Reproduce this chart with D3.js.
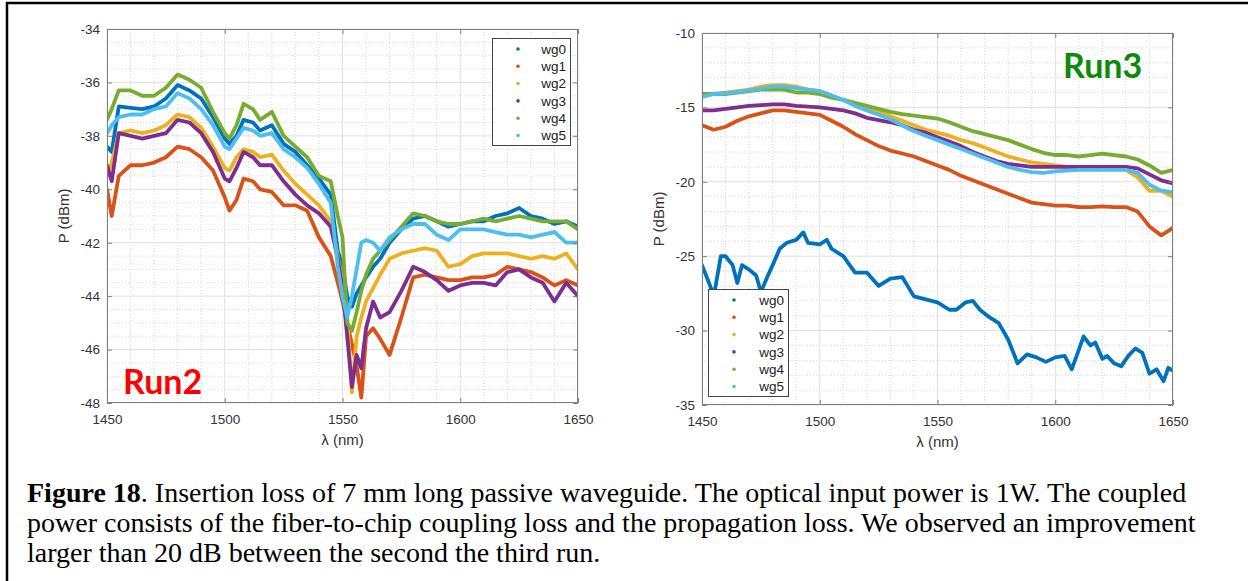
<!DOCTYPE html>
<html>
<head>
<meta charset="utf-8">
<script src="https://cdn.jsdelivr.net/npm/d3@7"></script>
<style>
  body { margin: 0; background: #fff; }
  svg { display: block; }
</style>
</head>
<body>
<svg id="fig" width="1248" height="581"></svg>
<script>
// legend names + MATLAB default colour order
var seriesNames = ["wg0", "wg1", "wg2", "wg3", "wg4", "wg5"];
var seriesColors = ["#0072BD", "#D95319", "#EDB120", "#7E2F8E", "#77AC30", "#4DBEEE"];

var xTicks = [1450, 1500, 1550, 1600, 1650];
var yTicksRun2 = [-48, -46, -44, -42, -40, -38, -36, -34];
var yTicksRun3 = [-35, -30, -25, -20, -15, -10];

// ---- Run2 (wavelength nm / power dBm)
var wlRun2 = [1450,1452,1455,1460,1465,1470,1475,1480,1485,1490,1495,1500,1502,1505,1508,1512,1515,1520,1525,1530,
              1535,1540,1545,1548,1550,1552,1554,1556,1558,1560,1563,1566,1570,1575,1580,1585,1590,1595,1600,1605,
              1610,1615,1620,1625,1630,1635,1640,1645,1650];
var run2_wg0 = [-38.4,-38.6,-36.9,-36.95,-37.0,-36.9,-36.6,-36.1,-36.3,-36.6,-37.3,-38.1,-38.3,-38.0,-37.4,-37.5,-37.8,-37.6,-38.3,-38.6,
                -39.1,-39.6,-40.2,-42.3,-42.9,-44.0,-44.4,-43.9,-43.6,-43.3,-42.9,-42.6,-42.0,-41.5,-41.1,-41.0,-41.2,-41.4,-41.3,-41.2,
                -41.2,-41.0,-40.9,-40.7,-41.0,-41.1,-41.3,-41.2,-41.4];
var run2_wg1 = [-40.0,-41.0,-39.5,-39.1,-39.1,-39.0,-38.8,-38.4,-38.5,-38.8,-39.3,-40.3,-40.8,-40.4,-39.6,-39.7,-40.0,-40.1,-40.6,-40.6,
                -40.8,-41.8,-42.5,-43.5,-44.2,-45.0,-45.8,-46.6,-47.8,-45.5,-45.2,-45.6,-46.2,-44.8,-43.3,-43.2,-43.3,-43.4,-43.4,-43.3,
                -43.3,-43.2,-42.9,-43.0,-43.1,-43.3,-43.6,-43.4,-43.6];
var run2_wg2 = [-39.5,-39.0,-37.9,-37.8,-37.9,-37.8,-37.6,-37.2,-37.3,-37.7,-38.4,-39.2,-39.3,-38.8,-38.5,-38.6,-38.8,-38.7,-39.3,-39.8,
                -40.2,-40.6,-41.2,-42.5,-43.5,-44.8,-47.6,-45.5,-44.8,-44.2,-43.7,-43.2,-42.6,-42.4,-42.3,-42.2,-42.3,-42.9,-42.8,-42.5,
                -42.4,-42.4,-42.4,-42.5,-42.6,-42.5,-42.6,-42.4,-43.0];
var run2_wg3 = [-39.1,-39.7,-37.9,-38.0,-38.1,-38.0,-37.9,-37.4,-37.5,-37.9,-38.6,-39.6,-39.7,-39.2,-38.6,-38.8,-39.1,-39.1,-39.7,-40.2,
                -40.6,-40.9,-41.4,-42.6,-43.7,-45.5,-47.4,-46.2,-46.7,-45.2,-44.2,-44.8,-44.6,-43.8,-42.9,-43.1,-43.4,-43.8,-43.6,-43.5,
                -43.5,-43.6,-43.1,-43.0,-43.3,-43.5,-44.2,-43.5,-44.0];
var run2_wg4 = [-37.4,-37.0,-36.3,-36.3,-36.5,-36.5,-36.2,-35.7,-35.9,-36.2,-37.1,-37.9,-38.1,-37.6,-36.8,-37.0,-37.4,-37.1,-38.0,-38.4,
                -38.8,-39.5,-39.7,-41.0,-41.8,-45.0,-45.3,-44.6,-43.8,-43.2,-42.6,-42.3,-41.9,-41.4,-40.9,-41.0,-41.2,-41.3,-41.3,-41.2,
                -41.1,-41.2,-41.1,-41.0,-41.1,-41.2,-41.2,-41.2,-41.5];
var run2_wg5 = [-37.9,-37.6,-37.3,-37.2,-37.2,-37.0,-36.9,-36.4,-36.6,-37.0,-37.6,-38.4,-38.5,-38.1,-37.7,-37.8,-38.0,-37.9,-38.5,-38.8,
                -39.2,-39.8,-40.5,-42.9,-44.0,-44.8,-44.0,-43.0,-42.0,-41.9,-42.0,-42.3,-41.8,-41.5,-41.3,-41.3,-41.7,-41.9,-41.5,-41.5,
                -41.5,-41.6,-41.7,-41.7,-41.8,-41.7,-41.6,-42.0,-42.0];

// ---- Run3
var wlRun3 = [1450,1455,1460,1465,1470,1475,1480,1485,1490,1495,1500,1505,1510,1515,1520,1525,1530,1535,1540,1545,
              1550,1555,1560,1565,1570,1575,1580,1585,1590,1595,1600,1605,1610,1615,1620,1625,1630,1635,1640,1645,1650];
var run3_wg1 = [-16.2,-16.5,-16.3,-15.9,-15.6,-15.4,-15.2,-15.2,-15.3,-15.4,-15.5,-15.9,-16.3,-16.8,-17.2,-17.6,-17.9,-18.1,-18.3,-18.6,
                -18.9,-19.2,-19.6,-19.9,-20.2,-20.5,-20.8,-21.1,-21.4,-21.5,-21.6,-21.6,-21.7,-21.7,-21.65,-21.7,-21.7,-22.0,-23.0,-23.6,-23.1];
var run3_wg2 = [-14.2,-14.1,-14.0,-13.9,-13.8,-13.6,-13.5,-13.5,-13.6,-13.8,-13.9,-14.2,-14.5,-14.8,-15.0,-15.3,-15.6,-15.9,-16.2,-16.5,
                -16.7,-16.9,-17.2,-17.4,-17.7,-18.0,-18.3,-18.5,-18.7,-18.8,-18.9,-19.0,-19.0,-19.0,-19.1,-19.1,-19.2,-19.7,-20.6,-20.6,-21.0];
var run3_wg3 = [-15.2,-15.2,-15.1,-15.0,-14.9,-14.85,-14.8,-14.8,-14.9,-14.95,-15.0,-15.1,-15.2,-15.4,-15.7,-15.85,-16.0,-16.2,-16.5,-16.7,
                -17.0,-17.3,-17.6,-18.0,-18.3,-18.6,-18.8,-18.9,-19.0,-19.0,-19.0,-19.0,-19.0,-19.0,-19.0,-19.0,-19.0,-19.1,-19.5,-19.9,-20.1];
var run3_wg4 = [-14.1,-14.1,-14.1,-14.0,-13.9,-13.8,-13.8,-13.8,-14.0,-14.0,-14.1,-14.35,-14.5,-14.7,-14.9,-15.1,-15.3,-15.45,-15.55,-15.65,
                -15.75,-16.0,-16.3,-16.6,-16.8,-17.0,-17.2,-17.5,-17.8,-18.05,-18.2,-18.2,-18.3,-18.2,-18.1,-18.2,-18.3,-18.5,-18.9,-19.4,-19.2];
var run3_wg5 = [-14.3,-14.1,-14.05,-13.95,-13.85,-13.75,-13.6,-13.6,-13.7,-13.8,-13.9,-14.2,-14.5,-14.9,-15.2,-15.5,-15.8,-16.2,-16.6,-16.9,
                -17.2,-17.5,-17.8,-18.1,-18.4,-18.7,-19.0,-19.2,-19.35,-19.4,-19.3,-19.25,-19.2,-19.2,-19.2,-19.2,-19.2,-19.4,-20.2,-20.6,-20.7];
// wg0 in run3 has its own sampling (more structure)
var wlRun3_wg0 = [1450,1453,1455,1458,1460,1463,1465,1467,1470,1473,1475,1478,1480,1483,1486,1490,1493,1495,1500,1503,
                  1505,1510,1515,1520,1525,1530,1535,1540,1545,1550,1555,1558,1562,1565,1568,1572,1576,1580,1584,1588,
                  1592,1596,1600,1604,1607,1610,1612,1615,1617,1620,1622,1625,1628,1631,1634,1637,1640,1643,1646,1648,1650];
var run3_wg0 = [-25.6,-26.8,-27.7,-25.0,-25.0,-25.6,-26.8,-25.6,-25.9,-26.3,-27.4,-26.3,-25.6,-24.5,-24.1,-23.9,-23.4,-24.1,-24.2,-23.9,
                -24.5,-25.0,-26.1,-26.1,-27.0,-26.5,-26.4,-27.7,-27.9,-28.1,-28.6,-28.6,-28.1,-28.0,-28.6,-29.1,-29.5,-30.6,-32.2,-31.6,
                -31.8,-32.1,-31.8,-31.7,-32.6,-31.3,-30.4,-31.0,-30.8,-31.9,-31.7,-32.2,-32.4,-31.7,-31.2,-31.5,-32.9,-32.6,-33.4,-32.5,-32.7];

var captionLines = [
  [["Figure 18", true], [". Insertion loss of 7 mm long passive waveguide. The optical input power is 1W. The coupled", false]],
  [["power consists of the fiber-to-chip coupling loss and the propagation loss. We observed an improvement", false]],
  [["larger than 20 dB between the second the third run.", false]]
];

var svg = d3.select("#fig");
var sans = "'Liberation Sans', Arial, sans-serif";

// page frame (left + top rule)
svg.append("path")
  .attr("d", "M7,581 L7,3 L1248,3")
  .attr("fill", "none").attr("stroke", "#000").attr("stroke-width", 2.5);

function drawPanel(p) {
  var x = d3.scaleLinear().domain([1450, 1650]).range([p.left, p.right]);
  var y = d3.scaleLinear().domain([p.yTicks[0], p.yTicks[p.yTicks.length - 1]]).range([p.bottom, p.top]);
  var g = svg.append("g");

  g.append("rect").attr("x", p.left).attr("y", p.top)
    .attr("width", p.right - p.left).attr("height", p.bottom - p.top).attr("fill", "#fff");

  // minor grid (dotted)
  var xMinor = d3.range(1450, 1651, 10).filter(function(v){ return v % 50 != 0; });
  var yMinor = d3.range(p.yTicks[0], p.yTicks[p.yTicks.length - 1] + 0.001, p.yMinor)
    .filter(function(v){ return p.yTicks.indexOf(v) < 0; });
  g.selectAll(".xm").data(xMinor).enter().append("line")
    .attr("x1", d => x(d)).attr("x2", d => x(d)).attr("y1", p.top).attr("y2", p.bottom)
    .attr("stroke", "#d6d6d6").attr("stroke-dasharray", "1,2");
  g.selectAll(".ym").data(yMinor).enter().append("line")
    .attr("x1", p.left).attr("x2", p.right).attr("y1", d => y(d)).attr("y2", d => y(d))
    .attr("stroke", "#d6d6d6").attr("stroke-dasharray", "1,2");
  // major grid
  g.selectAll(".xg").data(xTicks).enter().append("line")
    .attr("x1", d => x(d)).attr("x2", d => x(d)).attr("y1", p.top).attr("y2", p.bottom)
    .attr("stroke", "#e0e0e0");
  g.selectAll(".yg").data(p.yTicks).enter().append("line")
    .attr("x1", p.left).attr("x2", p.right).attr("y1", d => y(d)).attr("y2", d => y(d))
    .attr("stroke", "#e0e0e0");

  // data
  var clipId = "clip" + p.name;
  svg.append("clipPath").attr("id", clipId).append("rect")
    .attr("x", p.left).attr("y", p.top).attr("width", p.right - p.left).attr("height", p.bottom - p.top);
  var lines = g.append("g").attr("clip-path", "url(#" + clipId + ")");
  p.series.forEach(function(s, i) {
    var pts = s.wl.map(function(w, k){ return [w, s.val[k]]; });
    var line = d3.line().x(d => x(d[0])).y(d => y(d[1]));
    lines.append("path")
      .attr("d", line(pts))
      .attr("fill", "none")
      .attr("stroke", seriesColors[i])
      .attr("stroke-width", 3.8)
      .attr("stroke-linejoin", "round")
      .attr("stroke-linecap", "round");
  });

  // axes
  var tickCol = "#808080";
  var fmt = function(d){ return String(d); };
  var xAxis = d3.axisBottom(x).tickValues(xTicks).tickFormat(fmt).tickSizeInner(-5).tickSizeOuter(0).tickPadding(11);
  var yAxis = d3.axisLeft(y).tickValues(p.yTicks).tickFormat(fmt).tickSizeInner(-5).tickSizeOuter(0).tickPadding(7);
  var gx = g.append("g").attr("transform", "translate(0," + p.bottom + ")").call(xAxis);
  var gy = g.append("g").attr("transform", "translate(" + p.left + ",0)").call(yAxis);
  var gx2 = g.append("g").attr("transform", "translate(0," + p.top + ")")
    .call(d3.axisTop(x).tickValues(xTicks).tickSizeInner(-5).tickSizeOuter(0).tickFormat(""));
  var gy2 = g.append("g").attr("transform", "translate(" + p.right + ",0)")
    .call(d3.axisRight(y).tickValues(p.yTicks).tickSizeInner(-5).tickSizeOuter(0).tickFormat(""));
  [gx, gy, gx2, gy2].forEach(function(a) {
    a.select(".domain").remove();
    a.selectAll("line").attr("stroke", tickCol);
    a.selectAll("text").attr("fill", "#333").style("font-family", sans).style("font-size", "13.5px");
  });
  g.append("rect").attr("x", p.left + 0.5).attr("y", p.top + 0.5)
    .attr("width", p.right - p.left - 1).attr("height", p.bottom - p.top - 1)
    .attr("fill", "none").attr("stroke", tickCol).attr("stroke-width", 1);

  // axis labels
  g.append("text").attr("x", (p.left + p.right) / 2).attr("y", p.bottom + 42)
    .attr("text-anchor", "middle").attr("fill", "#333")
    .style("font-family", sans).style("font-size", "15px")
    .text("\u03bb (nm)");
  g.append("text")
    .attr("transform", "translate(" + p.yLabelX + "," + ((p.top + p.bottom) / 2) + ") rotate(-90)")
    .attr("text-anchor", "middle").attr("fill", "#333")
    .style("font-family", sans).style("font-size", "15px")
    .text("P (dBm)");

  // legend
  var lg = g.append("g");
  lg.append("rect").attr("x", p.legend[0] + 0.5).attr("y", p.legend[1] + 0.5)
    .attr("width", p.legend[2]).attr("height", p.legend[3])
    .attr("fill", "#fff").attr("stroke", "#444").attr("stroke-width", 1);
  seriesNames.forEach(function(n, i) {
    var ry = p.legend[1] + 11 + i * 17.3;
    lg.append("circle").attr("cx", p.legend[0] + 26).attr("cy", ry).attr("r", 1.8).attr("fill", seriesColors[i]);
    lg.append("text").attr("x", p.legend[0] + p.legend[2] - 4).attr("y", ry).attr("dy", "0.35em")
      .attr("text-anchor", "end").attr("fill", "#222")
      .style("font-family", sans).style("font-size", "13.5px")
      .text(n);
  });

  // run tag
  g.append("text").attr("x", p.tag[0]).attr("y", p.tag[1])
    .attr("fill", p.tagColor)
    .style("font-family", "Lato, 'Open Sans', sans-serif").style("font-weight", "bold").style("font-size", "34px")
    .text(p.name);
}

drawPanel({
  name: "Run2", left: 107, right: 578, top: 29, bottom: 403,
  yTicks: yTicksRun2, yMinor: 0.5, yLabelX: 69,
  legend: [492, 38, 78, 107], tag: [123, 394], tagColor: "#ff0000",
  series: [
    { wl: wlRun2, val: run2_wg0 }, { wl: wlRun2, val: run2_wg1 }, { wl: wlRun2, val: run2_wg2 },
    { wl: wlRun2, val: run2_wg3 }, { wl: wlRun2, val: run2_wg4 }, { wl: wlRun2, val: run2_wg5 }
  ]
});

drawPanel({
  name: "Run3", left: 702, right: 1173, top: 33, bottom: 405,
  yTicks: yTicksRun3, yMinor: 1, yLabelX: 664,
  legend: [708, 289, 80, 107], tag: [1063, 78], tagColor: "#0b8a0b",
  series: [
    { wl: wlRun3_wg0, val: run3_wg0 }, { wl: wlRun3, val: run3_wg1 }, { wl: wlRun3, val: run3_wg2 },
    { wl: wlRun3, val: run3_wg3 }, { wl: wlRun3, val: run3_wg4 }, { wl: wlRun3, val: run3_wg5 }
  ]
});

// caption
var capBase = [502, 532, 562];
captionLines.forEach(function(parts, i) {
  var t = svg.append("text").attr("x", 27).attr("y", capBase[i]).attr("fill", "#000")
    .style("font-family", "'Liberation Serif', 'Times New Roman', serif").style("font-size", "28px");
  parts.forEach(function(pt) {
    t.append("tspan").style("font-weight", pt[1] ? "bold" : "normal").text(pt[0]);
  });
});
</script>
</body>
</html>
